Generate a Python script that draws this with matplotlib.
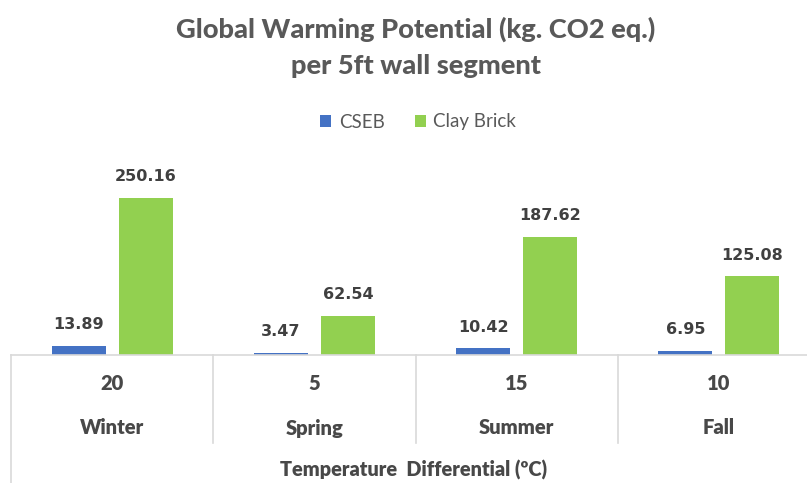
import matplotlib
matplotlib.use("Agg")
import matplotlib.pyplot as plt
import matplotlib.transforms as mtrans
import numpy as np

plt.rcParams['font.family'] = ['Lato', 'DejaVu Sans']

temps = ["20", "5", "15", "10"]
seasons = ["Winter", "Spring", "Summer", "Fall"]
cseb = [13.89, 3.47, 10.42, 6.95]
clay = [250.16, 62.54, 187.62, 125.08]
series_names = ["CSEB", "Clay Brick"]
colors = ["#4472C4", "#92D050"]

W, H = 807, 483
fig = plt.figure(figsize=(W / 100, H / 100), dpi=100)
left, right, base, top = 11, 820, 355, 150
ax = fig.add_axes([left / W, 1 - base / H, (right - left) / W, (base - top) / H])

x = np.arange(len(temps))
bw = 0.267
off = 0.166
b1 = ax.bar(x - off, cseb, bw, color=colors[0], label=series_names[0])
b2 = ax.bar(x + off, clay, bw, color=colors[1], label=series_names[1])
ax.set_xlim(-0.5, len(temps) - 0.5)
ax.set_ylim(0, (base - top) / 0.628)

for bars, vals in ((b1, cseb), (b2, clay)):
    for r, v in zip(bars, vals):
        ax.annotate(f"{v:.2f}", (r.get_x() + r.get_width() / 2, v),
                    xytext=(0, 10), textcoords="offset points",
                    ha="center", va="bottom", fontsize=11.5,
                    fontweight="bold", color="#404040", family="DejaVu Sans")

for s in ["top", "right", "left"]:
    ax.spines[s].set_visible(False)
ax.spines["bottom"].set_color("#d9d9d9")
ax.spines["bottom"].set_linewidth(1.2)
ax.set_yticks([])
ax.set_xticks([])

trans = mtrans.blended_transform_factory(ax.transData, ax.transAxes)
ah = base - top
sep_end = -(443 - base) / ah
outer_end = -(H + 5 - base) / ah
for i in range(1, len(temps)):
    ax.plot([i - 0.5, i - 0.5], [0, sep_end], transform=trans, color="#d9d9d9",
            lw=1.2, clip_on=False)
ax.plot([-0.5, -0.5], [0, outer_end], transform=trans, color="#d9d9d9",
        lw=1.2, clip_on=False)

for i in range(len(temps)):
    ax.text(i, -(384 - base) / ah, temps[i], transform=trans, ha="center",
            va="center", fontsize=14.5, fontweight=800, color="#484848")
    ax.text(i, -(428 - base) / ah, seasons[i], transform=trans, ha="center",
            va="center", fontsize=14.5, fontweight=800, color="#484848")

fig.text(414 / W, 1 - 470 / H, "Temperature  Differential (ºC)",
         ha="center", va="center", fontsize=14.3, fontweight=800, color="#484848")

fig.text(416 / W, 1 - 29 / H, "Global Warming Potential (kg. CO2 eq.)",
         ha="center", va="center", fontsize=19.6, fontweight=900, color="#595959")
fig.text(416 / W, 1 - 66 / H, "per 5ft wall segment",
         ha="center", va="center", fontsize=19.6, fontweight=900, color="#595959")

leg = fig.legend(handles=[b1, b2], labels=series_names, loc="center",
                 bbox_to_anchor=(418 / W, 1 - 122 / H), ncol=2, frameon=False,
                 fontsize=13.5, handlelength=0.6, handleheight=0.6,
                 handletextpad=0.4, columnspacing=1.6, labelcolor="#595959")

fig.savefig("out.png", dpi=100)
